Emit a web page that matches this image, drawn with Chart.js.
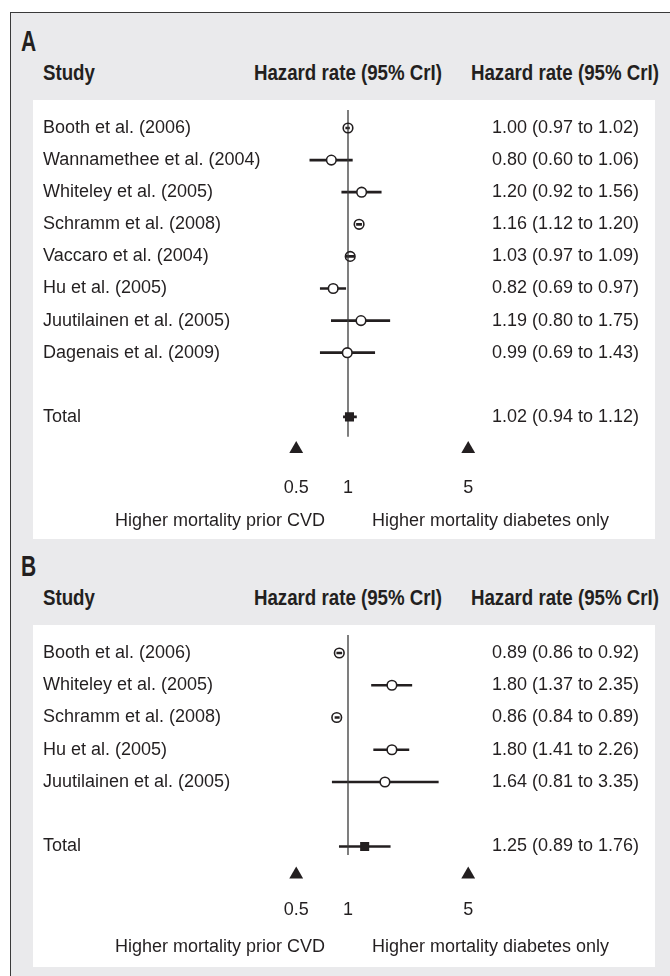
<!DOCTYPE html>
<html>
<head>
<meta charset="utf-8">
<script src="https://cdn.jsdelivr.net/npm/chart.js@4.4.1/dist/chart.umd.min.js"></script>
<style>
  body { margin: 0; background: #fff; }
  #page { position: relative; width: 670px; height: 976px; overflow: hidden;
          font-family: 'Liberation Sans', Arial, sans-serif; color: #231f20; }
  .frame { position: absolute; left: 10px; top: 12px; width: 680px; height: 990px; background: #eaeaec;
           border-left: 1.5px solid #3a3a3a; border-top: 1.5px solid #3a3a3a; }
  .letter { position: absolute; left: 21px; font-weight: bold; font-size: 30px; line-height: 30px;
            transform: scaleX(0.7); transform-origin: left center; }
  .head { position: absolute; font-weight: bold; font-size: 22px; line-height: 22px; white-space: nowrap; width: 300px; }
  canvas { position: absolute; left: 33px; background: #fff; }
</style>
</head>
<body>
<div id="page">
  <div class="frame"></div>
  <canvas id="chartA"></canvas>
  <canvas id="chartB"></canvas>
</div>
<script>
// Panel A: all studies
var studiesA = ['Booth et al. (2006)', 'Wannamethee et al. (2004)', 'Whiteley et al. (2005)', 'Schramm et al. (2008)',
                'Vaccaro et al. (2004)', 'Hu et al. (2005)', 'Juutilainen et al. (2005)', 'Dagenais et al. (2009)'];
var hrA   = [1.00, 0.80, 1.20, 1.16, 1.03, 0.82, 1.19, 0.99];
var lowA  = [0.97, 0.60, 0.92, 1.12, 0.97, 0.69, 0.80, 0.69];
var highA = [1.02, 1.06, 1.56, 1.20, 1.09, 0.97, 1.75, 1.43];
var totalA = [1.02, 0.94, 1.12];

// Panel B
var studiesB = ['Booth et al. (2006)', 'Whiteley et al. (2005)', 'Schramm et al. (2008)', 'Hu et al. (2005)', 'Juutilainen et al. (2005)'];
var hrB   = [0.89, 1.80, 0.86, 1.80, 1.64];
var lowB  = [0.86, 1.37, 0.84, 1.41, 0.81];
var highB = [0.92, 2.35, 0.89, 2.26, 3.35];
var totalB = [1.25, 0.89, 1.76];

var axisTicks = [0.5, 1, 5];
var arrowTicks = [0.5, 5];
var sideLabels = ['Higher mortality prior CVD', 'Higher mortality diabetes only'];
var headers = ['Study', 'Hazard rate (95% CrI)', 'Hazard rate (95% CrI)'];

var ink = '#231f20';
var fontName = "'Liberation Sans', Arial, sans-serif";

// x axis geometry inside the canvas (canvas starts at page x 33)
var xMin = 0.4, xMax = 6.2;
var onePx = 315, pxPerDecade = 172, padLeft = 10, padRight = 16, canvasW = 622;
var leftAxisW = onePx + pxPerDecade * Math.log10(xMin) - padLeft;
var rightAxisW = canvasW - padRight - (onePx + pxPerDecade * Math.log10(xMax));

// page layout of each panel (px)
var layoutA = { letter: 'A', letterY: 41, headY: 73, top: 100, height: 439, row0: 128, rowPx: 32.1,
                plotBottom: 462, tickY: 488, sideY: 521, refTop: -0.56, refEnd: 0.62, arrowGap: 1.0 };
var layoutB = { letter: 'B', letterY: 566, headY: 598, top: 625, height: 342, row0: 653, rowPx: 32.25,
                plotBottom: 888, tickY: 910, sideY: 947, refTop: -0.56, refEnd: 0.26, arrowGap: 0.87 };

function fmt(v, lo, hi) {
  return v.toFixed(2) + ' (' + lo.toFixed(2) + ' to ' + hi.toFixed(2) + ')';
}

var sideLabelPlugin = {
  id: 'sideLabels',
  afterDraw: function(chart, args, opts) {
    var ctx = chart.ctx;
    var x1 = chart.scales.x.getPixelForValue(1);
    var y = chart.scales.y.getPixelForValue(opts.row);
    ctx.save();
    ctx.font = '18px ' + fontName;
    ctx.fillStyle = ink;
    ctx.textBaseline = 'middle';
    ctx.textAlign = 'right';
    ctx.fillText(sideLabels[0], x1 - 23, y);
    ctx.textAlign = 'left';
    ctx.fillText(sideLabels[1], x1 + 24, y);
    ctx.restore();
  }
};

function addHeaders(L) {
  var page = document.getElementById('page');
  var letter = document.createElement('div');
  letter.className = 'letter';
  letter.textContent = L.letter;
  letter.style.top = (L.letterY - 15) + 'px';
  page.appendChild(letter);

  var lefts = [43, 198, 359];
  var aligns = ['left', 'center', 'right'];
  headers.forEach(function(h, i) {
    var d = document.createElement('div');
    d.className = 'head';
    d.textContent = h;
    d.style.left = lefts[i] + 'px';
    d.style.textAlign = aligns[i];
    d.style.transform = 'scaleX(0.85)';
    d.style.transformOrigin = aligns[i] + ' center';
    d.style.top = (L.headY - 11) + 'px';
    page.appendChild(d);
  });
}

function makePanel(id, L, studies, hr, low, high, total) {
  var n = studies.length;
  var totalRow = n + 1;
  var rows = studies.map(function(s, i) { return i; });
  var tickRows = rows.concat([totalRow]);
  var names = studies.concat(['Total']);
  var values = hr.map(function(v, i) { return fmt(v, low[i], high[i]); })
                 .concat([fmt(total[0], total[1], total[2])]);
  var yMin = (L.top - L.row0) / L.rowPx;
  var yMax = (L.plotBottom - L.row0) / L.rowPx;
  var tickFont = { family: fontName, size: 18, lineHeight: 1 };

  addHeaders(L);

  var canvas = document.getElementById(id);
  canvas.width = canvasW;
  canvas.height = L.height;
  canvas.style.top = L.top + 'px';

  function rowAxis(pos, labels, width) {
    return {
      type: 'linear',
      position: pos,
      reverse: true,
      offset: false,
      min: yMin,
      max: yMax,
      grid: { display: false, drawTicks: false, offset: false },
      border: { display: false },
      afterBuildTicks: function(s) {
        s.ticks = tickRows.map(function(v) { return { value: v }; });
      },
      ticks: {
        font: tickFont,
        color: ink,
        autoSkip: false,
        crossAlign: 'far',
        padding: 0,
        callback: function(v, i) { return labels[i]; }
      },
      afterFit: function(s) {
        s.width = width;
        s.paddingLeft = s.paddingRight = s.paddingTop = s.paddingBottom = 0;
      }
    };
  }

  new Chart(canvas, {
    type: 'scatter',
    data: {
      datasets: [
        {
          // point estimates
          type: 'scatter',
          data: hr.map(function(v, i) { return { x: v, y: i }; }),
          pointStyle: 'circle',
          pointRadius: 4.8,
          borderWidth: 1.6,
          borderColor: ink,
          backgroundColor: function(ctx) {
            var i = ctx.dataIndex;
            if (i === undefined) return '#fff';
            return high[i] / low[i] < 1.15 ? 'rgba(255,255,255,0)' : '#fff';
          },
          order: 0
        },
        {
          // pooled estimate
          type: 'scatter',
          data: [{ x: total[0], y: totalRow }],
          pointStyle: 'rect',
          pointRadius: 6.4,
          borderWidth: 0,
          backgroundColor: ink,
          order: 0
        },
        {
          // arrows under the axis
          type: 'scatter',
          data: arrowTicks.map(function(v) { return { x: v, y: totalRow + L.arrowGap }; }),
          pointStyle: 'triangle',
          pointRadius: 8,
          borderWidth: 0,
          backgroundColor: ink,
          order: 0
        },
        {
          // line of no effect
          type: 'line',
          data: [{ x: 1, y: L.refTop }, { x: 1, y: totalRow + L.refEnd }],
          borderColor: '#3a3a3a',
          borderWidth: 1.3,
          pointRadius: 0,
          order: 1
        },
        {
          // credible intervals
          type: 'bar',
          indexAxis: 'y',
          xAxisID: 'x',
          yAxisID: 'y',
          data: low.map(function(v, i) { return { x: [v, high[i]], y: i }; })
                   .concat([{ x: [total[1], total[2]], y: totalRow }]),
          backgroundColor: ink,
          borderWidth: 0,
          barThickness: 2,
          grouped: false,
          order: 2
        }
      ]
    },
    options: {
      responsive: false,
      animation: false,
      devicePixelRatio: 1,
      layout: { autoPadding: false, padding: { left: padLeft, right: padRight, top: 0, bottom: 0 } },
      plugins: {
        legend: { display: false },
        tooltip: { enabled: false },
        sideLabels: { row: (L.sideY - L.row0) / L.rowPx }
      },
      scales: {
        x: {
          type: 'logarithmic',
          position: 'bottom',
          min: xMin,
          max: xMax,
          grid: { display: false, drawTicks: false },
          border: { display: false },
          afterBuildTicks: function(s) {
            s.ticks = axisTicks.map(function(v) { return { value: v }; });
          },
          ticks: {
            font: tickFont,
            color: ink,
            autoSkip: false,
            maxRotation: 0,
            padding: L.tickY - L.plotBottom - 9,
            callback: function(v) { return String(v); }
          },
          afterFit: function(s) {
            s.height = L.top + L.height - L.plotBottom;
            s.paddingLeft = s.paddingRight = s.paddingTop = s.paddingBottom = 0;
          }
        },
        y: rowAxis('left', names, leftAxisW),
        y2: rowAxis('right', values, rightAxisW)
      }
    },
    plugins: [sideLabelPlugin]
  });
}

makePanel('chartA', layoutA, studiesA, hrA, lowA, highA, totalA);
makePanel('chartB', layoutB, studiesB, hrB, lowB, highB, totalB);
</script>
</body>
</html>
